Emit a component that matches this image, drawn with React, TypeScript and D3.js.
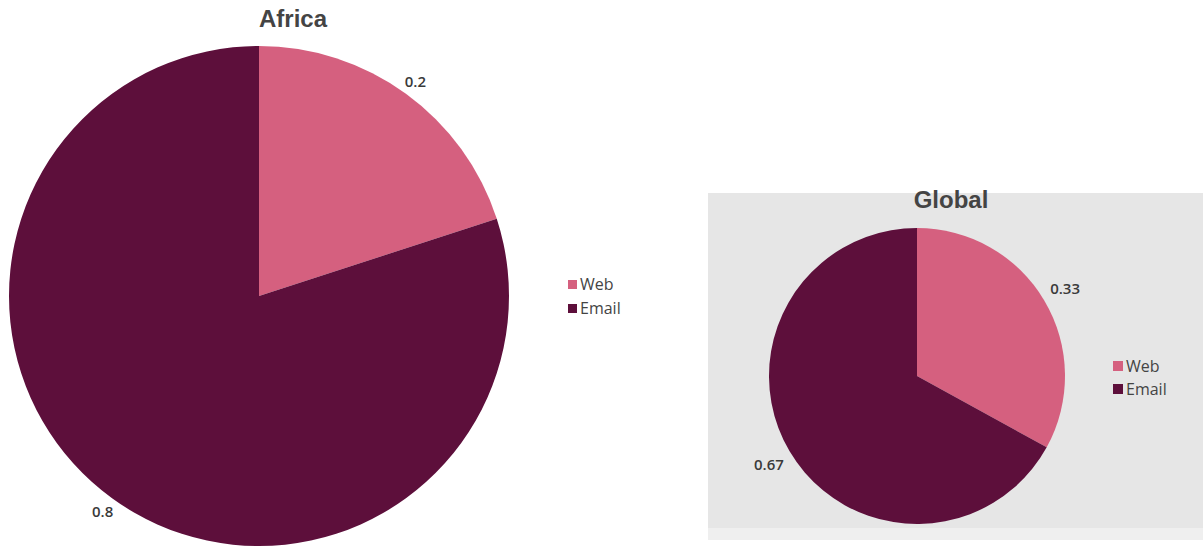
import React from "react";
import * as d3 from "d3";

const categories = ["Web", "Email"];
const africaValues = [0.2, 0.8];
const globalValues = [0.33, 0.67];
const colors = ["#d5607f", "#5d0f3b"];

type PieProps = {
  title: string;
  values: number[];
  cx: number;
  cy: number;
  r: number;
  labelOffset: number;
  titleX: number;
  titleY: number;
  legendX: number;
  legendY: number;
  legendGap: number;
  legendFont: number;
  sq: number;
};

function Pie(p: PieProps) {
  const data = categories.map((c, i) => ({ c, v: p.values[i] }));
  const pie = d3.pie<{ c: string; v: number }>().sort(null).value((d) => d.v);
  const arcs = pie(data);
  const arc = d3.arc<d3.PieArcDatum<{ c: string; v: number }>>().innerRadius(0).outerRadius(p.r);
  const labelArc = d3
    .arc<d3.PieArcDatum<{ c: string; v: number }>>()
    .innerRadius(p.r + p.labelOffset)
    .outerRadius(p.r + p.labelOffset);
  return (
    <g>
      <g transform={`translate(${p.cx},${p.cy})`}>
        {arcs.map((a, i) => (
          <path key={i} d={arc(a) || ""} fill={colors[i]} />
        ))}
        {arcs.map((a, i) => {
          const [x, y] = labelArc.centroid(a);
          return (
            <text
              key={"l" + i}
              x={x}
              y={y}
              textAnchor="middle"
              dominantBaseline="central"
              fontFamily="'Open Sans', sans-serif"
              fontWeight={600}
              fontSize={15}
              fill="#3a3a3a"
            >
              {a.data.v}
            </text>
          );
        })}
      </g>
      <text
        x={p.titleX}
        y={p.titleY}
        textAnchor="middle"
        fontFamily="'Liberation Sans', Arial, sans-serif"
        fontWeight="bold"
        fontSize={24}
        fill="#444444"
      >
        {p.title}
      </text>
      {categories.map((c, i) => (
        <g key={"lg" + i} transform={`translate(${p.legendX},${p.legendY + i * p.legendGap})`}>
          <rect x={0} y={-p.sq} width={p.sq} height={p.sq} fill={colors[i]} />
          <text
            x={p.sq + 3}
            y={0}
            fontFamily="'Open Sans', sans-serif"
            fontSize={p.legendFont}
            fill="#444444"
            dy={1}
          >
            {c}
          </text>
        </g>
      ))}
    </g>
  );
}

export default function App() {
  return (
    <svg
      width={1203}
      height={548}
      style={{ position: "absolute", left: 0, top: 0, background: "#ffffff" }}
    >
      <rect x={708} y={528} width={495} height={12} fill="#efefef" />
      <rect x={708} y={193} width={495} height={335} fill="#e6e6e6" />
      <Pie
        title="Africa"
        values={africaValues}
        cx={259}
        cy={296}
        r={250}
        labelOffset={16}
        titleX={293}
        titleY={27}
        legendX={568}
        legendY={289}
        legendGap={24}
        legendFont={16}
        sq={9}
      />
      <Pie
        title="Global"
        values={globalValues}
        cx={917}
        cy={376}
        r={148}
        labelOffset={24}
        titleX={951}
        titleY={208}
        legendX={1113}
        legendY={371}
        legendGap={23}
        legendFont={16}
        sq={10}
      />
    </svg>
  );
}
